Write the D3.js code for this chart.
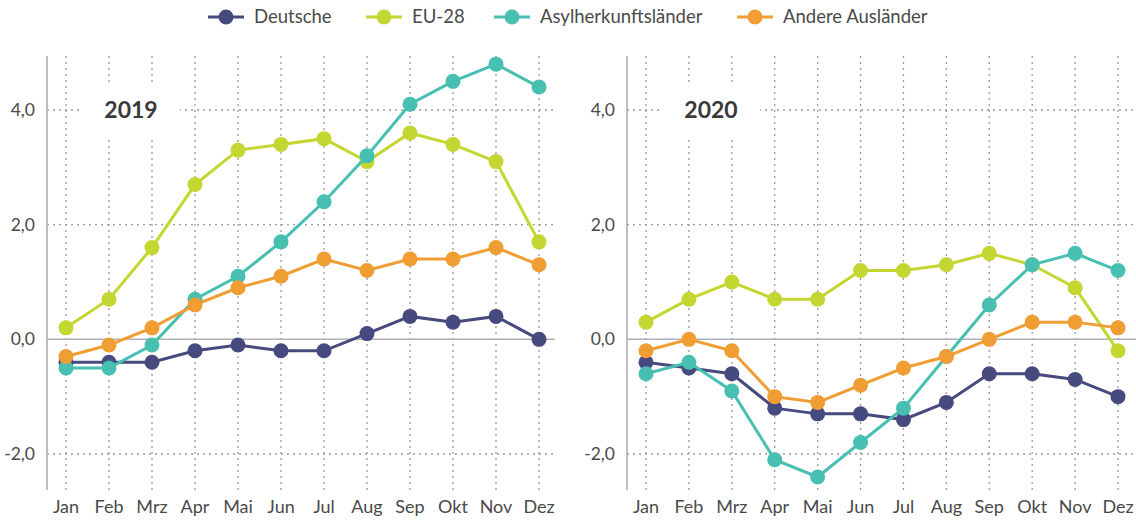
<!DOCTYPE html>
<html>
<head>
  <script type="text/javascript" src="https://d3js.org/d3.v7.min.js"></script>
</head>
<body>
<style type="text/css">
  html, body, svg {
    overflow: hidden;
    margin: 0px;
    width: 100%;
    height: 100%;
    background: #fff;
  }
  text { font-family: "Source Sans Pro", Lato, "Noto Sans", sans-serif; }
  .tick-label { fill: #4a4a4a; font-size: 17.5px; }
  .month-label { fill: #4a4a4a; font-size: 18px; }
  .panel-title { fill: #3a3a3a; font-size: 23px; font-weight: bold; }
  .legend-label { fill: #4a4a4a; font-size: 18.5px; }
</style>

<script>
"use strict";

// Data
const MONTHS = ["Jan", "Feb", "Mrz", "Apr", "Mai", "Jun", "Jul", "Aug", "Sep", "Okt", "Nov", "Dez"];
const SERIES = ["Deutsche", "EU-28", "Asylherkunftsländer", "Andere Ausländer"];
const COLORS = ["#464a7e", "#c3d631", "#47bfb1", "#f09d33"];
const Y_TICKS = [-2, 0, 2, 4];

const DEUTSCHE_2019 = [-0.4, -0.4, -0.4, -0.2, -0.1, -0.2, -0.2, 0.1, 0.4, 0.3, 0.4, 0.0];
const EU28_2019 = [0.2, 0.7, 1.6, 2.7, 3.3, 3.4, 3.5, 3.1, 3.6, 3.4, 3.1, 1.7];
const ASYL_2019 = [-0.5, -0.5, -0.1, 0.7, 1.1, 1.7, 2.4, 3.2, 4.1, 4.5, 4.8, 4.4];
const ANDERE_2019 = [-0.3, -0.1, 0.2, 0.6, 0.9, 1.1, 1.4, 1.2, 1.4, 1.4, 1.6, 1.3];

const DEUTSCHE_2020 = [-0.4, -0.5, -0.6, -1.2, -1.3, -1.3, -1.4, -1.1, -0.6, -0.6, -0.7, -1.0];
const EU28_2020 = [0.3, 0.7, 1.0, 0.7, 0.7, 1.2, 1.2, 1.3, 1.5, 1.3, 0.9, -0.2];
const ASYL_2020 = [-0.6, -0.4, -0.9, -2.1, -2.4, -1.8, -1.2, -0.3, 0.6, 1.3, 1.5, 1.2];
const ANDERE_2020 = [-0.2, 0.0, -0.2, -1.0, -1.1, -0.8, -0.5, -0.3, 0.0, 0.3, 0.3, 0.2];

const PANELS = [
  { title: "2019", axisX: 47, x0: 66, x1: 539, right: 555,
    series: [DEUTSCHE_2019, EU28_2019, ASYL_2019, ANDERE_2019] },
  { title: "2020", axisX: 627, x0: 646, x1: 1118, right: 1136,
    series: [DEUTSCHE_2020, EU28_2020, ASYL_2020, ANDERE_2020] }
];

// Dimensions
const WIDTH = 1136;
const HEIGHT = 520;
const PLOT_TOP = 56;
const PLOT_BOTTOM = 490;

const SVG = d3.select("body").append("svg")
  .attr("width", WIDTH)
  .attr("height", HEIGHT);

const Y_SCALE = d3.scaleLinear()
  .domain([-2, 4])
  .range([454, 110]);

const fmt = function(v) { return d3.format(".1f")(v).replace(".", ",").replace("−", "-"); };

PANELS.forEach(function(p) {
  const g = SVG.append("g");
  const xScale = d3.scalePoint().domain(MONTHS).range([p.x0, p.x1]);

  // vertical dotted grid
  g.selectAll(".vgrid").data(MONTHS).enter().append("line")
    .attr("x1", function(d) { return xScale(d); })
    .attr("x2", function(d) { return xScale(d); })
    .attr("y1", PLOT_TOP)
    .attr("y2", PLOT_BOTTOM)
    .attr("stroke", "#9a9a9a")
    .attr("stroke-width", 1.3)
    .attr("stroke-dasharray", "2,4");

  // horizontal dotted grid
  g.selectAll(".hgrid").data(Y_TICKS.filter(function(d) { return d !== 0; })).enter().append("line")
    .attr("x1", p.axisX)
    .attr("x2", p.right)
    .attr("y1", function(d) { return Y_SCALE(d); })
    .attr("y2", function(d) { return Y_SCALE(d); })
    .attr("stroke", "#9a9a9a")
    .attr("stroke-width", 1.3)
    .attr("stroke-dasharray", "2,4");

  // zero line
  g.append("line")
    .attr("x1", p.axisX).attr("x2", p.right)
    .attr("y1", Y_SCALE(0)).attr("y2", Y_SCALE(0))
    .attr("stroke", "#b0b0b8")
    .attr("stroke-width", 1.5);

  // y axis line
  g.append("line")
    .attr("x1", p.axisX).attr("x2", p.axisX)
    .attr("y1", PLOT_TOP).attr("y2", PLOT_BOTTOM)
    .attr("stroke", "#a8a8b0")
    .attr("stroke-width", 1.5);

  // y tick labels
  g.selectAll(".ylab").data(Y_TICKS).enter().append("text")
    .classed("tick-label", true)
    .attr("x", p.axisX - 12)
    .attr("y", function(d) { return Y_SCALE(d); })
    .attr("dy", "0.35em")
    .attr("text-anchor", "end")
    .text(fmt);

  // x labels
  g.selectAll(".xlab").data(MONTHS).enter().append("text")
    .classed("month-label", true)
    .attr("x", function(d) { return xScale(d); })
    .attr("y", 513)
    .attr("text-anchor", "middle")
    .text(function(d) { return d; });

  // title with white box
  const tx = p.axisX + 84;
  g.append("rect")
    .attr("x", tx - 48).attr("y", 85)
    .attr("width", 97).attr("height", 52)
    .attr("fill", "#fff");
  g.append("text")
    .classed("panel-title", true)
    .attr("x", tx)
    .attr("y", Y_SCALE(4) + 8)
    .attr("text-anchor", "middle")
    .text(p.title);

  // series
  const line = d3.line()
    .x(function(d, i) { return xScale(MONTHS[i]); })
    .y(function(d) { return Y_SCALE(d); });

  p.series.forEach(function(vals, si) {
    const sg = g.append("g");
    sg.append("path")
      .attr("d", line(vals))
      .attr("fill", "none")
      .attr("stroke", COLORS[si])
      .attr("stroke-width", 3);
    sg.selectAll("circle").data(vals).enter().append("circle")
      .attr("cx", function(d, i) { return xScale(MONTHS[i]); })
      .attr("cy", function(d) { return Y_SCALE(d); })
      .attr("r", 7.5)
      .attr("fill", COLORS[si]);
  });
});

// Legend
const LEGEND_X = [208, 366, 494, 737];
const legend = SVG.append("g");
SERIES.forEach(function(name, i) {
  const lg = legend.append("g").attr("transform", "translate(" + LEGEND_X[i] + ",17)");
  lg.append("line")
    .attr("x1", 0).attr("x2", 36)
    .attr("y1", 0).attr("y2", 0)
    .attr("stroke", COLORS[i])
    .attr("stroke-width", 3);
  lg.append("circle")
    .attr("cx", 18).attr("cy", 0).attr("r", 7.5)
    .attr("fill", COLORS[i]);
  lg.append("text")
    .classed("legend-label", true)
    .attr("x", 46)
    .attr("dy", "0.35em")
    .text(name);
});
</script>
</body>
</html>
